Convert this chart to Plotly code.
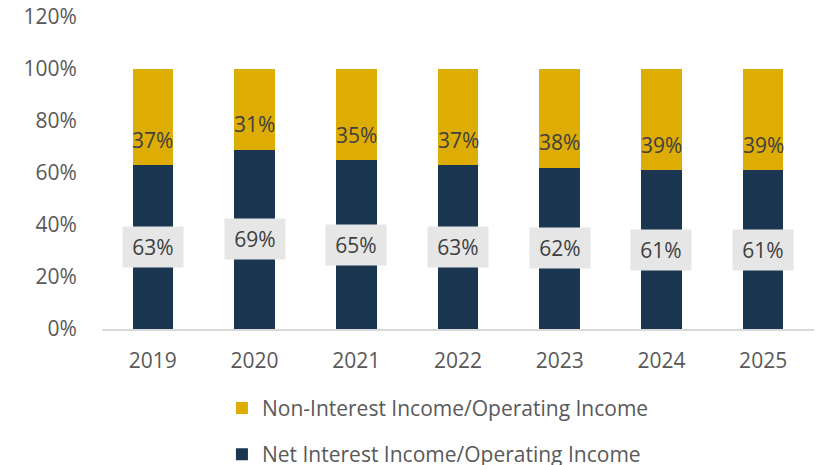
import plotly.graph_objects as go

years = ["2019", "2020", "2021", "2022", "2023", "2024", "2025"]
net_interest = [63, 69, 65, 63, 62, 61, 61]
non_interest = [37, 31, 35, 37, 38, 39, 39]
y_ticks = [0, 20, 40, 60, 80, 100, 120]

NAVY = "#1b3651"
GOLD = "#ddad06"
TEXT = "#595959"
LABEL = "#404040"
FONT = "Open Sans"
SIZE = 21

fig = go.Figure()
fig.add_trace(go.Bar(
    x=years, y=net_interest, name="Net Interest Income/Operating Income",
    marker=dict(color=NAVY, line=dict(width=0)), legendgroup="nii", legendrank=2,
))
fig.add_trace(go.Bar(
    x=years, y=non_interest, name="Non-Interest Income/Operating Income",
    marker=dict(color=GOLD, line=dict(width=0)), legendgroup="non", legendrank=1,
))

# labels: navy share in a grey box at mid-segment, gold share just above the split
# (x given as category index so the year strings are not read as numbers)
for i, (a, b) in enumerate(zip(net_interest, non_interest)):
    fig.add_annotation(
        x=i, y=a / 2, text=f"{a}%", showarrow=False,
        font=dict(family=FONT, size=SIZE, color=LABEL),
        bgcolor="#e6e6e6", width=58, height=38,
    )
    fig.add_annotation(
        x=i, y=a + 9.8, text=f"{b}%", showarrow=False,
        font=dict(family=FONT, size=SIZE, color=LABEL),
    )

fig.update_layout(
    barmode="stack",
    bargap=0.6,
    width=822, height=465,
    margin=dict(l=102, r=8, t=17, b=136, autoexpand=False),
    plot_bgcolor="white", paper_bgcolor="white",
    font=dict(family=FONT, size=SIZE, color=TEXT),
    showlegend=True,
    legend=dict(
        orientation="v", traceorder="grouped", tracegroupgap=16,
        x=0.27, xanchor="left", xref="container",
        y=0.166, yanchor="top", yref="container",
        font=dict(family=FONT, size=SIZE, color=TEXT),
    ),
    xaxis=dict(
        type="category", categoryorder="array", categoryarray=years,
        range=[-0.5, len(years) - 0.5],
        showgrid=False, showline=True, linecolor="#d9d9d9", linewidth=1.5,
        ticks="outside", ticklen=12, tickcolor="rgba(0,0,0,0)",
        tickfont=dict(family=FONT, size=SIZE, color=TEXT),
    ),
    yaxis=dict(
        range=[0, 120], tickvals=y_ticks, ticktext=[f"{v}%" for v in y_ticks],
        showgrid=False, zeroline=False, showline=False,
        tickfont=dict(family=FONT, size=SIZE, color=TEXT),
        ticks="outside", ticklen=20, tickcolor="rgba(0,0,0,0)",
    ),
)

fig.write_html("out.html")
